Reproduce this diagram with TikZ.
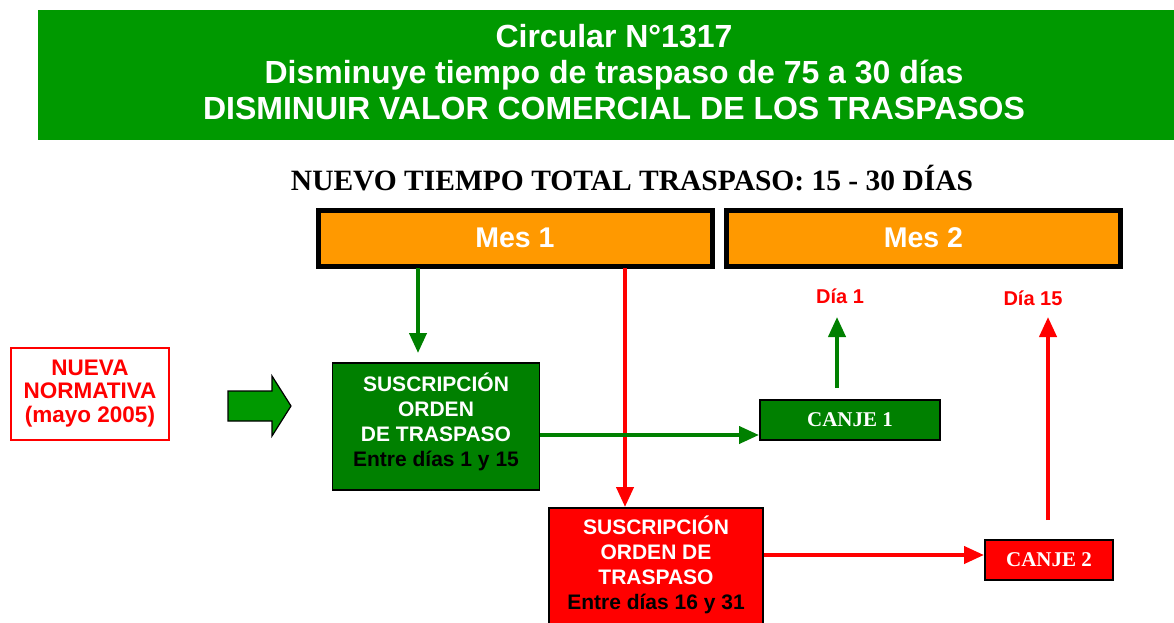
\documentclass[tikz,border=0pt]{standalone}
\usepackage{fontspec}
\setmainfont{Liberation Sans}
\newfontfamily\serifb{Liberation Serif}
\usetikzlibrary{arrows.meta}
\definecolor{gbanner}{HTML}{009900}
\definecolor{gbox}{HTML}{008000}
\definecolor{gline}{HTML}{008000}
\definecolor{rbox}{HTML}{FF0000}
\definecolor{orangebox}{HTML}{FF9900}
\begin{document}
\begin{tikzpicture}[x=1pt,y=-1pt,
  mesbox/.style={draw=black,line width=5pt,fill=orangebox,minimum width=394pt,minimum height=56pt,inner sep=0pt,text=white,font=\fontsize{28.5}{30}\selectfont\bfseries},
  mainbox/.style={draw=black,line width=1.5pt,inner sep=0pt,align=center,text=white,font=\fontsize{21}{25}\selectfont\bfseries},
  canjebox/.style={draw=black,line width=2pt,inner sep=0pt,text=white,font=\serifb\fontsize{21}{22}\selectfont\bfseries},
  garrow/.style={draw=gline,line width=4pt,-{Triangle[length=20pt,width=17pt]}},
  rarrow/.style={draw=rbox,line width=4pt,-{Triangle[length=20pt,width=17pt]}},
  dialabel/.style={text=rbox,font=\fontsize{20}{22}\selectfont\bfseries}
]
\useasboundingbox (0,0) rectangle (1174,623);
% banner
\node[fill=gbanner,minimum width=1136pt,minimum height=130pt,inner sep=0pt,anchor=north west] (banner) at (38,10) {};
\node[text=white,align=center,font=\fontsize{32}{36}\selectfont\bfseries] (title) at (614,72)
  {Circular N°1317\\Disminuye tiempo de traspaso de 75 a 30 días\\DISMINUIR VALOR COMERCIAL DE LOS TRASPASOS};
\node[font=\serifb\fontsize{29.5}{30}\selectfont\bfseries] (subtitle) at (632,178) {NUEVO TIEMPO TOTAL TRASPASO: 15 - 30 DÍAS};
% months
\node[mesbox] (mes1) at (515,238) {Mes 1};
\node[mesbox] (mes2) at (923.5,238) {Mes 2};
% nueva normativa
\node[draw=rbox,line width=2pt,minimum width=158pt,minimum height=92pt,inner sep=0pt,align=center,text=rbox,font=\fontsize{22.5}{23.5}\selectfont\bfseries] (nueva) at (90,393.5) {NUEVA\\NORMATIVA\\(mayo 2005)};
% block arrow
\draw[fill=gbanner,draw=black,line width=1.2pt] (228,391) -- (272,391) -- (272,376) -- (291,406) -- (272,436) -- (272,421) -- (228,421) -- cycle;
% green box
\node[mainbox,fill=gbox,minimum width=207pt,minimum height=127pt,text depth=14.5pt] (gb) at (436,426.5)
  {SUSCRIPCIÓN\\ORDEN\\DE TRASPASO\\\textcolor{black}{Entre días 1 y 15}};
% red box
\node[mainbox,fill=rbox,minimum width=214pt,minimum height=130pt,anchor=north,text depth=20.5pt] (rb) at (656,507)
  {SUSCRIPCIÓN\\ORDEN DE\\TRASPASO\\\textcolor{black}{Entre días 16 y 31}};
% canje boxes
\node[canjebox,fill=gbox,minimum width=180pt,minimum height=40pt] (c1) at (850,420) {CANJE 1};
\node[canjebox,fill=rbox,minimum width=128pt,minimum height=40pt] (c2) at (1049,560) {CANJE 2};
% labels
\node[dialabel] (d1) at (840,296) {Día 1};
\node[dialabel] (d15) at (1033,298) {Día 15};
% arrows
\coordinate (g1s) at (418,268);
\draw[garrow] (g1s) -- (418,353);
\draw[rarrow] (625,268) -- (rb.north -| 625,0);
\draw[garrow] (gb.east |- 0,435) -- (c1.west |- 0,435);
\draw[garrow] (837,388) -- (837,317);
\draw[rarrow] (rb.east |- 0,555) -- (c2.west |- 0,555);
\draw[rarrow] (1048,520) -- (1048,317);
\end{tikzpicture}
\end{document}
